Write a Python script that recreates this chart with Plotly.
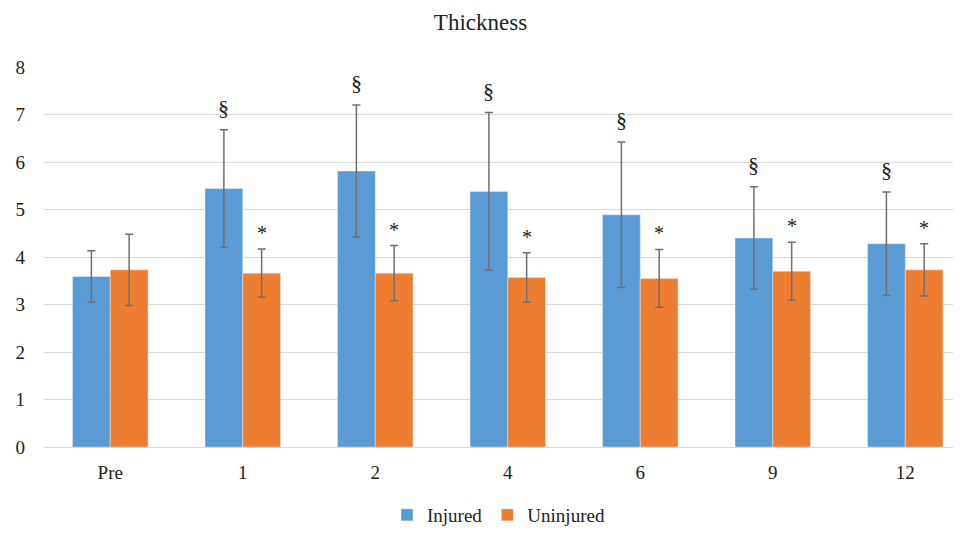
import plotly.graph_objects as go

categories = ["Pre", "1", "2", "4", "6", "9", "12"]
injured_mean = [3.59, 5.44, 5.81, 5.38, 4.89, 4.40, 4.28]
injured_sd = [0.54, 1.24, 1.39, 1.66, 1.53, 1.08, 1.09]
uninjured_mean = [3.73, 3.66, 3.66, 3.57, 3.55, 3.70, 3.73]
uninjured_sd = [0.75, 0.51, 0.58, 0.52, 0.61, 0.61, 0.55]
injured_marks = ["", "§", "§", "§", "§", "§", "§"]
uninjured_marks = ["", "*", "*", "*", "*", "*", "*"]

BLUE = "#5B9BD5"
ORANGE = "#ED7D31"
FONT = "Liberation Serif, Times New Roman, DejaVu Serif, serif"

fig = go.Figure()
fig.add_trace(go.Bar(
    x=categories, y=injured_mean, name="Injured", marker_color=BLUE,
    error_y=dict(type="data", array=injured_sd, color="#6f6f6f", thickness=1.5, width=4),
))
fig.add_trace(go.Bar(
    x=categories, y=uninjured_mean, name="Uninjured", marker_color=ORANGE,
    error_y=dict(type="data", array=uninjured_sd, color="#6f6f6f", thickness=1.5, width=4),
))

annotations = []
for i, c in enumerate(categories):
    if injured_marks[i]:
        annotations.append(dict(x=i, y=injured_mean[i] + injured_sd[i], text=injured_marks[i],
                                xref="x", yref="y", showarrow=False, xshift=-19, yanchor="bottom",
                                yshift=8, font=dict(family=FONT, size=22, color="#222")))
    if uninjured_marks[i]:
        annotations.append(dict(x=i, y=uninjured_mean[i] + uninjured_sd[i], text=uninjured_marks[i],
                                xref="x", yref="y", showarrow=False, xshift=19, yanchor="bottom",
                                yshift=3, font=dict(family=FONT, size=20, color="#222")))

fig.update_layout(
    width=945, height=526,
    margin=dict(l=36, r=0, t=59, b=87, autoexpand=False),
    paper_bgcolor="white", plot_bgcolor="white",
    title=dict(text="Thickness", x=0.5, xanchor="center", y=0.973, yanchor="middle",
               font=dict(family=FONT, size=23, color="#222")),
    barmode="group", bargap=0.43, bargroupgap=0,
    font=dict(family=FONT, size=19, color="#222"),
    xaxis=dict(range=[-0.5, 6.36], showgrid=False, ticks="", showline=False,
               ticklabelstandoff=12,
               tickfont=dict(family=FONT, size=19, color="#222")),
    yaxis=dict(range=[0, 8], dtick=1, showgrid=True, gridcolor="#d9d9d9", gridwidth=1,
               zeroline=True, zerolinecolor="#d9d9d9", zerolinewidth=1, showline=False,
               ticks="", ticklabelstandoff=18,
               tickfont=dict(family=FONT, size=19, color="#222")),
    legend=dict(orientation="h", x=0.5, xanchor="center", yref="container", y=0, yanchor="bottom",
                font=dict(family=FONT, size=19, color="#222"), itemwidth=30,
                tracegroupgap=0),
    annotations=annotations,
    showlegend=True,
)

fig.write_html("out.html")
